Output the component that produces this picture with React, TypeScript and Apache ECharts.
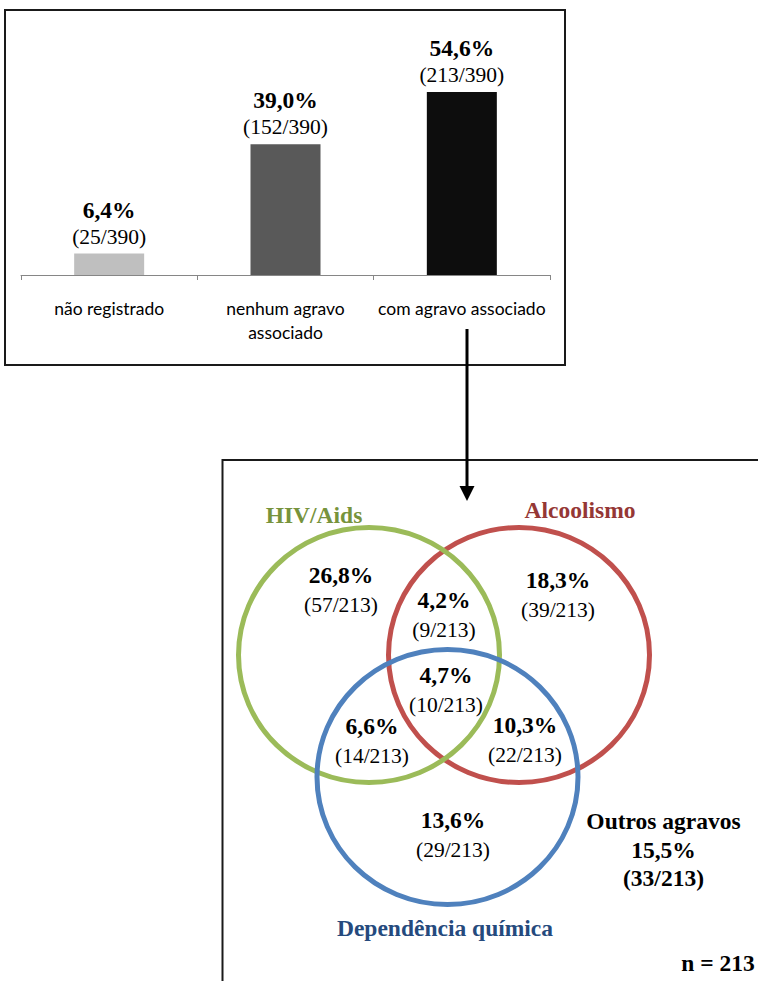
import React, { useEffect, useRef } from "react";
import * as echarts from "echarts";

// ---- Bar chart data ----
const categories = ["não registrado", "nenhum agravo\nassociado", "com agravo associado"];
const barPercents = [6.4, 39.0, 54.6];
const barCounts = [25, 152, 213];
const barTotal = 390;
const barColors = ["#bfbfbf", "#595959", "#0d0d0d"];

// ---- Venn data ----
const vennSetNames = ["HIV/Aids", "Alcoolismo", "Dependência química"];
const vennRegionNames = [
  "só HIV/Aids",
  "HIV/Aids + Alcoolismo",
  "só Alcoolismo",
  "todos",
  "HIV/Aids + Dependência",
  "Alcoolismo + Dependência",
  "só Dependência",
];
const vennRegionCounts = [57, 9, 39, 10, 14, 22, 29];
const vennTotal = 213;
const otherLabel = "Outros agravos";
const otherCount = 33;

// ---- Layout (positions/styles, kept apart from data) ----
const setColors = ["#9bbb59", "#c0504d", "#4f81bd"];
const setTextColors = ["#77933c", "#953735", "#254a7d"];
const circleLayout = [
  { cx: 369, cy: 655, rx: 130.5, ry: 127.5 },
  { cx: 519, cy: 655, rx: 130.5, ry: 127.5 },
  { cx: 447.5, cy: 777, rx: 130.5, ry: 127.5 },
];
const setLabelPos = [
  [314, 515],
  [580, 510],
  [445, 928],
];
const regionPos = [
  [341, 575],
  [444, 600],
  [558, 580],
  [446, 675],
  [372, 726],
  [525, 725],
  [453, 820],
];

const fmt = (v: number) => v.toFixed(1).replace(".", ",") + "%";
const SERIF = '"Liberation Serif", "Times New Roman", serif';
const BOLD = 23.5;
const NORMAL = 21.5;

export default function App() {
  const ref = useRef<HTMLDivElement>(null);
  useEffect(() => {
    const chart = echarts.init(ref.current!, null, { renderer: "svg" });

    const graphics: any[] = [];
    graphics.push({
      type: "rect",
      shape: { x: 5, y: 10, width: 560, height: 355 },
      style: { fill: "transparent", stroke: "#1a1a1a", lineWidth: 2 },
    });
    graphics.push({
      type: "polyline",
      shape: { points: [[222.5, 985], [222.5, 460], [760, 460]] },
      style: { fill: null, stroke: "#1a1a1a", lineWidth: 2 },
    });
    graphics.push({
      type: "line",
      shape: { x1: 467, y1: 329, x2: 467, y2: 488 },
      style: { stroke: "#000", lineWidth: 3 },
    });
    graphics.push({
      type: "polygon",
      shape: { points: [[459.5, 486], [474.5, 486], [467, 501]] },
      style: { fill: "#000" },
    });
    [1, 0, 2].forEach((i) => {
      const c = circleLayout[i];
      graphics.push({
        type: "ellipse",
        shape: { cx: c.cx, cy: c.cy, rx: c.rx, ry: c.ry },
        style: { fill: "transparent", stroke: setColors[i], lineWidth: 5 },
      });
    });
    vennSetNames.forEach((name, i) => {
      graphics.push({
        type: "text",
        x: setLabelPos[i][0],
        y: setLabelPos[i][1],
        style: {
          text: name,
          fill: setTextColors[i],
          fontFamily: SERIF,
          fontWeight: "bold",
          fontSize: BOLD,
          align: "center",
          verticalAlign: "middle",
        },
      });
    });
    vennRegionCounts.forEach((n, i) => {
      const [x, y] = regionPos[i];
      graphics.push({
        type: "text",
        x,
        y,
        style: {
          text: fmt((n / vennTotal) * 100),
          fill: "#000",
          fontFamily: SERIF,
          fontWeight: "bold",
          fontSize: BOLD,
          align: "center",
          verticalAlign: "middle",
        },
      });
      graphics.push({
        type: "text",
        x,
        y: y + 30,
        style: {
          text: `(${n}/${vennTotal})`,
          fill: "#000",
          fontFamily: SERIF,
          fontSize: NORMAL,
          align: "center",
          verticalAlign: "middle",
        },
      });
    });
    [otherLabel, fmt((otherCount / vennTotal) * 100), `(${otherCount}/${vennTotal})`].forEach((t, i) => {
      graphics.push({
        type: "text",
        x: 663.5,
        y: [821, 850, 878][i],
        style: {
          text: t,
          fill: "#000",
          fontFamily: SERIF,
          fontWeight: "bold",
          fontSize: BOLD,
          align: "center",
          verticalAlign: "middle",
        },
      });
    });
    graphics.push({
      type: "text",
      x: 718,
      y: 963,
      style: {
        text: `n = ${vennTotal}`,
        fill: "#000",
        fontFamily: SERIF,
        fontWeight: "bold",
        fontSize: BOLD,
        align: "center",
        verticalAlign: "middle",
      },
    });

    chart.setOption({
      animation: false,
      grid: { left: 21, right: 208, top: 74, bottom: 706, containLabel: false },
      xAxis: {
        type: "category",
        data: categories,
        axisLine: { lineStyle: { color: "#868686", width: 1 } },
        axisTick: { show: true, length: 5, lineStyle: { color: "#868686" } },
        axisLabel: {
          interval: 0,
          margin: 21,
          fontFamily: "Lato, sans-serif",
          fontSize: 17.5,
          lineHeight: 24,
          color: "#000",
        },
      },
      yAxis: {
        type: "value",
        min: 0,
        max: 60,
        show: false,
        splitLine: { show: false },
      },
      series: [
        {
          type: "bar",
          barWidth: 70,
          data: barPercents.map((v, i) => ({
            value: v,
            itemStyle: { color: barColors[i] },
            label: {
              formatter: `{p|${fmt(v)}}\n{c|(${barCounts[i]}/${barTotal})}`,
            },
          })),
          label: {
            show: true,
            position: "top",
            distance: 5,
            align: "center",
            rich: {
              p: { fontFamily: SERIF, fontWeight: "bold", fontSize: 23.5, lineHeight: 30, color: "#000" },
              c: { fontFamily: SERIF, fontSize: 21.5, lineHeight: 24, color: "#000" },
            },
          },
        },
      ],
      graphic: { elements: graphics },
    });
    return () => chart.dispose();
  }, []);
  return (
    <div
      ref={ref}
      style={{ position: "absolute", left: 0, top: 0, width: 758, height: 981, background: "#fff" }}
    />
  );
}
